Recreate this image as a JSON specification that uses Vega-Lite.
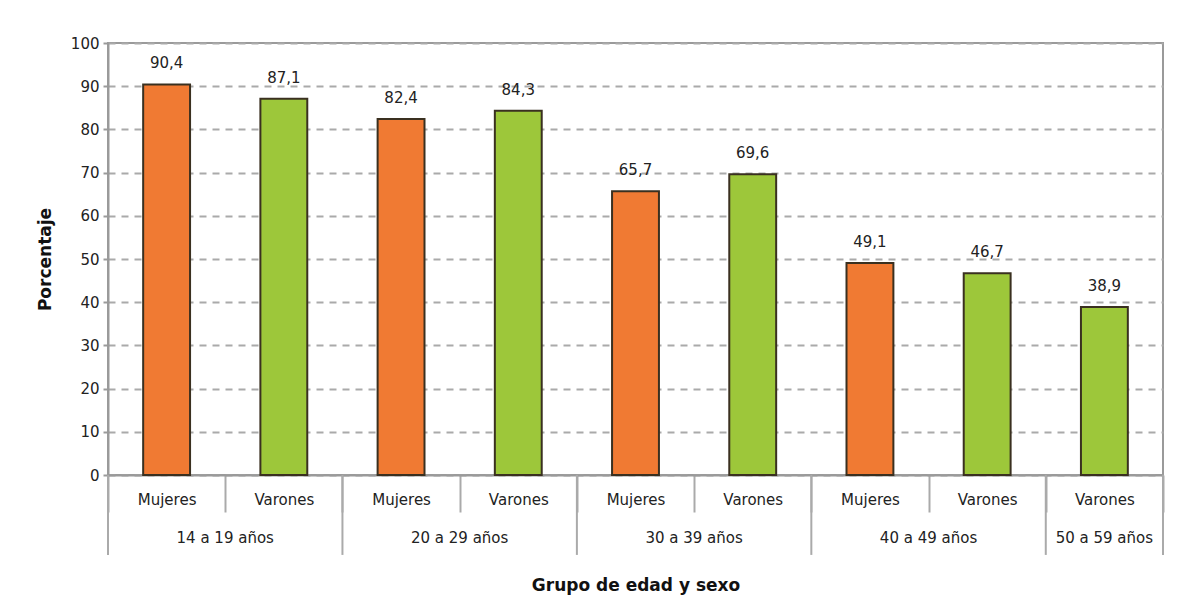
{
  "$schema": "https://vega.github.io/schema/vega-lite/v6.json",
  "width": 1055,
  "height": 432,
  "autosize": {"type": "none"},
  "padding": {"left": 108, "top": 43, "right": 19, "bottom": 133},
  "background": "white",
  "config": {
    "font": "DejaVu Sans",
    "view": {"stroke": "#9a9a9a", "strokeWidth": 2},
    "locale": {"number": {"decimal": ",", "thousands": ".", "grouping": [3], "currency": ["", " €"]}}
  },
  "data": {
    "values": [
      {"grupo": "14 a 19 años", "sexo": "Mujeres", "valor": 90.4},
      {"grupo": "14 a 19 años", "sexo": "Varones", "valor": 87.1},
      {"grupo": "20 a 29 años", "sexo": "Mujeres", "valor": 82.4},
      {"grupo": "20 a 29 años", "sexo": "Varones", "valor": 84.3},
      {"grupo": "30 a 39 años", "sexo": "Mujeres", "valor": 65.7},
      {"grupo": "30 a 39 años", "sexo": "Varones", "valor": 69.6},
      {"grupo": "40 a 49 años", "sexo": "Mujeres", "valor": 49.1},
      {"grupo": "40 a 49 años", "sexo": "Varones", "valor": 46.7},
      {"grupo": "50 a 59 años", "sexo": "Varones", "valor": 38.9}
    ]
  },
  "transform": [{"calculate": "datum.grupo + '|' + datum.sexo", "as": "key"}],
  "encoding": {
    "x": {
      "field": "key",
      "type": "nominal",
      "sort": null,
      "scale": {"paddingInner": 0, "paddingOuter": 0},
      "axis": {
        "title": "Grupo de edad y sexo",
        "titleFontSize": 17,
        "titleFontWeight": "bold",
        "titleColor": "#111",
        "titlePadding": 64,
        "labelExpr": "split(datum.value, '|')[1]",
        "labelAngle": 0,
        "labelFontSize": 15,
        "labelColor": "#222",
        "labelPadding": -20,
        "tickBand": "extent",
        "tickSize": 37,
        "tickColor": "#aaaaaa",
        "tickWidth": 2,
        "domainColor": "#9a9a9a",
        "domainWidth": 2,
        "grid": false
      }
    }
  },
  "layer": [
    {
      "mark": {"type": "bar", "width": {"band": 0.4}, "stroke": "#3a3020", "strokeWidth": 2},
      "encoding": {
        "y": {
          "field": "valor",
          "type": "quantitative",
          "scale": {"domain": [0, 100], "nice": false},
          "axis": {
            "title": "Porcentaje",
            "titleFontSize": 17,
            "titleFontWeight": "bold",
            "titleColor": "#111",
            "titlePadding": 16,
            "values": [0, 10, 20, 30, 40, 50, 60, 70, 80, 90, 100],
            "labelFontSize": 15,
            "labelColor": "#222",
            "labelPadding": 4,
            "tickSize": 5,
            "tickColor": "#9a9a9a",
            "tickWidth": 2,
            "domainColor": "#9a9a9a",
            "domainWidth": 2,
            "grid": true,
            "gridColor": "#aaaaaa",
            "gridWidth": 2,
            "gridDash": [7, 6]
          }
        },
        "fill": {
          "field": "sexo",
          "type": "nominal",
          "scale": {"domain": ["Mujeres", "Varones"], "range": ["#f07a33", "#9dc73a"]},
          "legend": null
        }
      }
    },
    {
      "mark": {"type": "text", "baseline": "bottom", "dy": -13, "fontSize": 15, "color": "#222"},
      "encoding": {
        "y": {"field": "valor", "type": "quantitative"},
        "text": {"field": "valor", "type": "quantitative", "format": ".1f"}
      }
    },
    {
      "transform": [{"filter": "datum.sexo == 'Mujeres' || datum.grupo == '50 a 59 años'"}],
      "mark": {"type": "rule", "color": "#aaaaaa", "strokeWidth": 2},
      "encoding": {
        "x": {"field": "key", "type": "nominal", "sort": null, "bandPosition": 0},
        "y": {"datum": 0},
        "y2": {"datum": -18.5}
      }
    },
    {
      "transform": [{"filter": "datum.grupo == '50 a 59 años'"}],
      "mark": {"type": "rule", "color": "#aaaaaa", "strokeWidth": 2},
      "encoding": {
        "x": {"field": "key", "type": "nominal", "sort": null, "bandPosition": 1},
        "y": {"datum": 0},
        "y2": {"datum": -18.5}
      }
    },
    {
      "transform": [{"filter": "datum.sexo == 'Varones' && datum.grupo != '50 a 59 años'"}],
      "mark": {"type": "text", "baseline": "middle", "fontSize": 15, "color": "#222"},
      "encoding": {
        "x": {"field": "key", "type": "nominal", "sort": null, "bandPosition": 0},
        "y": {"datum": -14.5},
        "text": {"field": "grupo"}
      }
    },
    {
      "transform": [{"filter": "datum.grupo == '50 a 59 años'"}],
      "mark": {"type": "text", "baseline": "middle", "fontSize": 15, "color": "#222"},
      "encoding": {
        "x": {"field": "key", "type": "nominal", "sort": null, "bandPosition": 0.5},
        "y": {"datum": -14.5},
        "text": {"field": "grupo"}
      }
    }
  ]
}
